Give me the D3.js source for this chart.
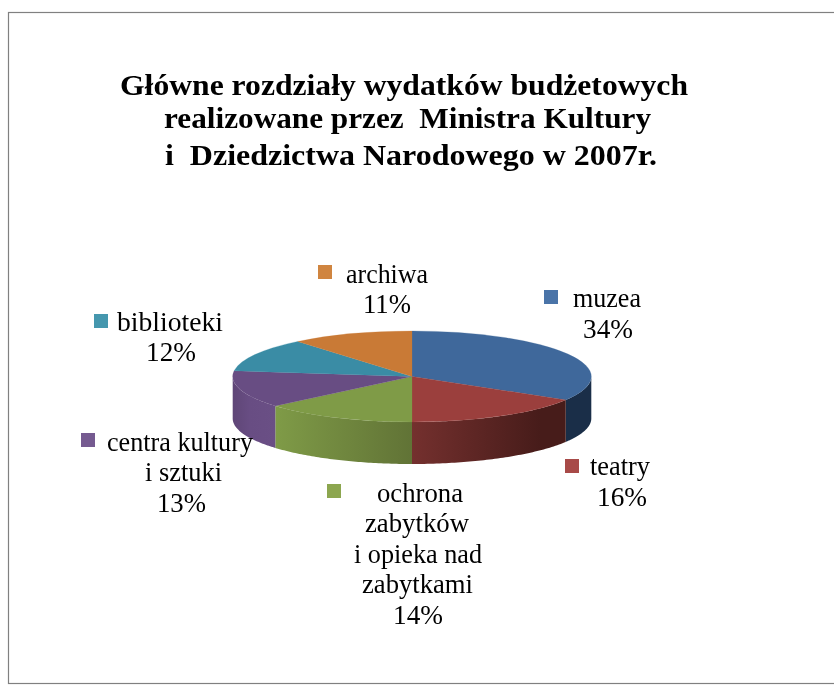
<!DOCTYPE html>
<html><head><meta charset="utf-8">
<script src="https://cdn.jsdelivr.net/npm/d3@7/dist/d3.min.js"></script>
<style>html,body{margin:0;padding:0;background:#fff}svg{display:block}</style>
</head><body><svg id="c" width="834" height="685"></svg>
<script>
const categories = ["muzea","teatry","ochrona zabytków i opieka nad zabytkami","centra kultury i sztuki","biblioteki","archiwa"];
const values = [33.6,16.4,13.8,13.2,12,11];
const topColors = ["#3f689b","#9b3f3d","#7f9b47","#684d83","#3a8ca5","#c97a36"];
const keyColors = ["#4a74a8","#a84a48","#8ca64f","#755a90","#4597ae","#d08540"];
const labelLines = [["muzea","34%"],["teatry","16%"],["ochrona","zabytków","i opieka nad","zabytkami","14%"],["centra kultury","i sztuki","13%"],["biblioteki","12%"],["archiwa","11%"]];
const titleLines = ["Główne rozdziały wydatków budżetowych","realizowane przez  Ministra Kultury","i  Dziedzictwa Narodowego w 2007r."];

const svg = d3.select("#c");
const cx=412, cy=376.5, rx=179.3, ry=45.5, depth=42;
svg.append("rect").attr("x",8.5).attr("y",12.5).attr("width",840).attr("height",671).attr("fill","#fff").attr("stroke","#808080").attr("stroke-width",1.2);

const defs = svg.append("defs");
defs.append("filter").attr("id","soft").attr("x","-5%").attr("y","-20%").attr("width","110%").attr("height","140%")
  .append("feGaussianBlur").attr("stdDeviation",0.4);
function grad(id,x1,x2,stops){
  const g=defs.append("linearGradient").attr("id",id).attr("gradientUnits","userSpaceOnUse")
    .attr("x1",x1).attr("x2",x2).attr("y1",0).attr("y2",0);
  stops.forEach(s=>g.append("stop").attr("offset",s[0]).attr("stop-color",s[1]));
}
grad("g1",412,540,[[0,"#74302e"],[1,"#471c1a"]]);
grad("g2",275,412,[[0,"#7f9b47"],[1,"#617336"]]);
grad("g3",233,275,[[0,"#5f4677"],[0.4,"#684d83"],[1,"#6a4f85"]]);

const pie = d3.pie().sort(null).value(d=>d);
const arcs = pie(values);
const arc = d3.arc().innerRadius(0).outerRadius(rx);
const px = a=>cx+rx*Math.sin(a), py=a=>cy-ry*Math.cos(a);

const sideFill = ["#1a2e48","url(#g1)","url(#g2)","url(#g3)"];
const line = d3.line();
arcs.forEach((d,i)=>{
  const a0=Math.max(d.startAngle,Math.PI/2), a1=Math.min(d.endAngle,1.5*Math.PI);
  if(a1<=a0) return;
  const n=60, ts=d3.range(n+1).map(k=>a0+(a1-a0)*k/n);
  const pts=[...ts.map(t=>[px(t),py(t)]),...ts.slice().reverse().map(t=>[px(t),py(t)+depth])];
  svg.append("path").attr("d",line(pts)+"Z").attr("fill",sideFill[i]);
});
const face = svg.append("g").attr("transform",`translate(${cx},${cy}) scale(1,${ry/rx})`);
face.selectAll("path").data(arcs).enter().append("path").attr("d",arc)
  .attr("fill",(d,i)=>topColors[i]).attr("stroke",(d,i)=>topColors[i]).attr("stroke-width",0.4);

const titleY=[94.5,128,164.5], titleX=[404,407.5,411], titleW=[568,487,492];
svg.append("g").attr("filter","url(#soft)").selectAll("text").data(titleLines).enter().append("text")
  .attr("x",(d,i)=>titleX[i]).attr("y",(d,i)=>titleY[i]).attr("text-anchor","middle")
  .attr("textLength",(d,i)=>titleW[i]).attr("lengthAdjust","spacingAndGlyphs")
  .style("white-space","pre")
  .attr("font-family","'Liberation Serif',serif").attr("font-weight","bold").attr("font-size",29).attr("fill","#000")
  .text(d=>d);

const labelCx=[[607,608],[620,622],[420,417,418,417.5,418],[180,183.5,181.5],[170,171],[387,387]];
const labelW=[[68,50],[60,50],[86,104,128,111,50],[146,77,49],[106,50],[82,48]];
const labelBase=[307,475,502,450.5,331,282.5], lh=[30.5,30.5,30.4,30.5,30,30.5];
const keyX=[544,565,327,81,94,318], keyY=[290,459,484,433,314,265];
const labels=svg.append("g").attr("filter","url(#soft)").attr("font-family","'Liberation Serif',serif").attr("font-size",27).attr("fill","#000");
labelLines.forEach((ls,i)=>{
  ls.forEach((t,j)=>labels.append("text").attr("x",labelCx[i][j]).attr("y",labelBase[i]+j*lh[i]).attr("text-anchor","middle")
    .attr("textLength",labelW[i][j]).attr("lengthAdjust","spacingAndGlyphs").text(t));
});
svg.append("g").selectAll("rect").data(labelLines).enter().append("rect")
  .attr("x",(d,i)=>keyX[i]).attr("y",(d,i)=>keyY[i]).attr("width",14).attr("height",14).attr("fill",(d,i)=>keyColors[i]);
</script></body></html>
